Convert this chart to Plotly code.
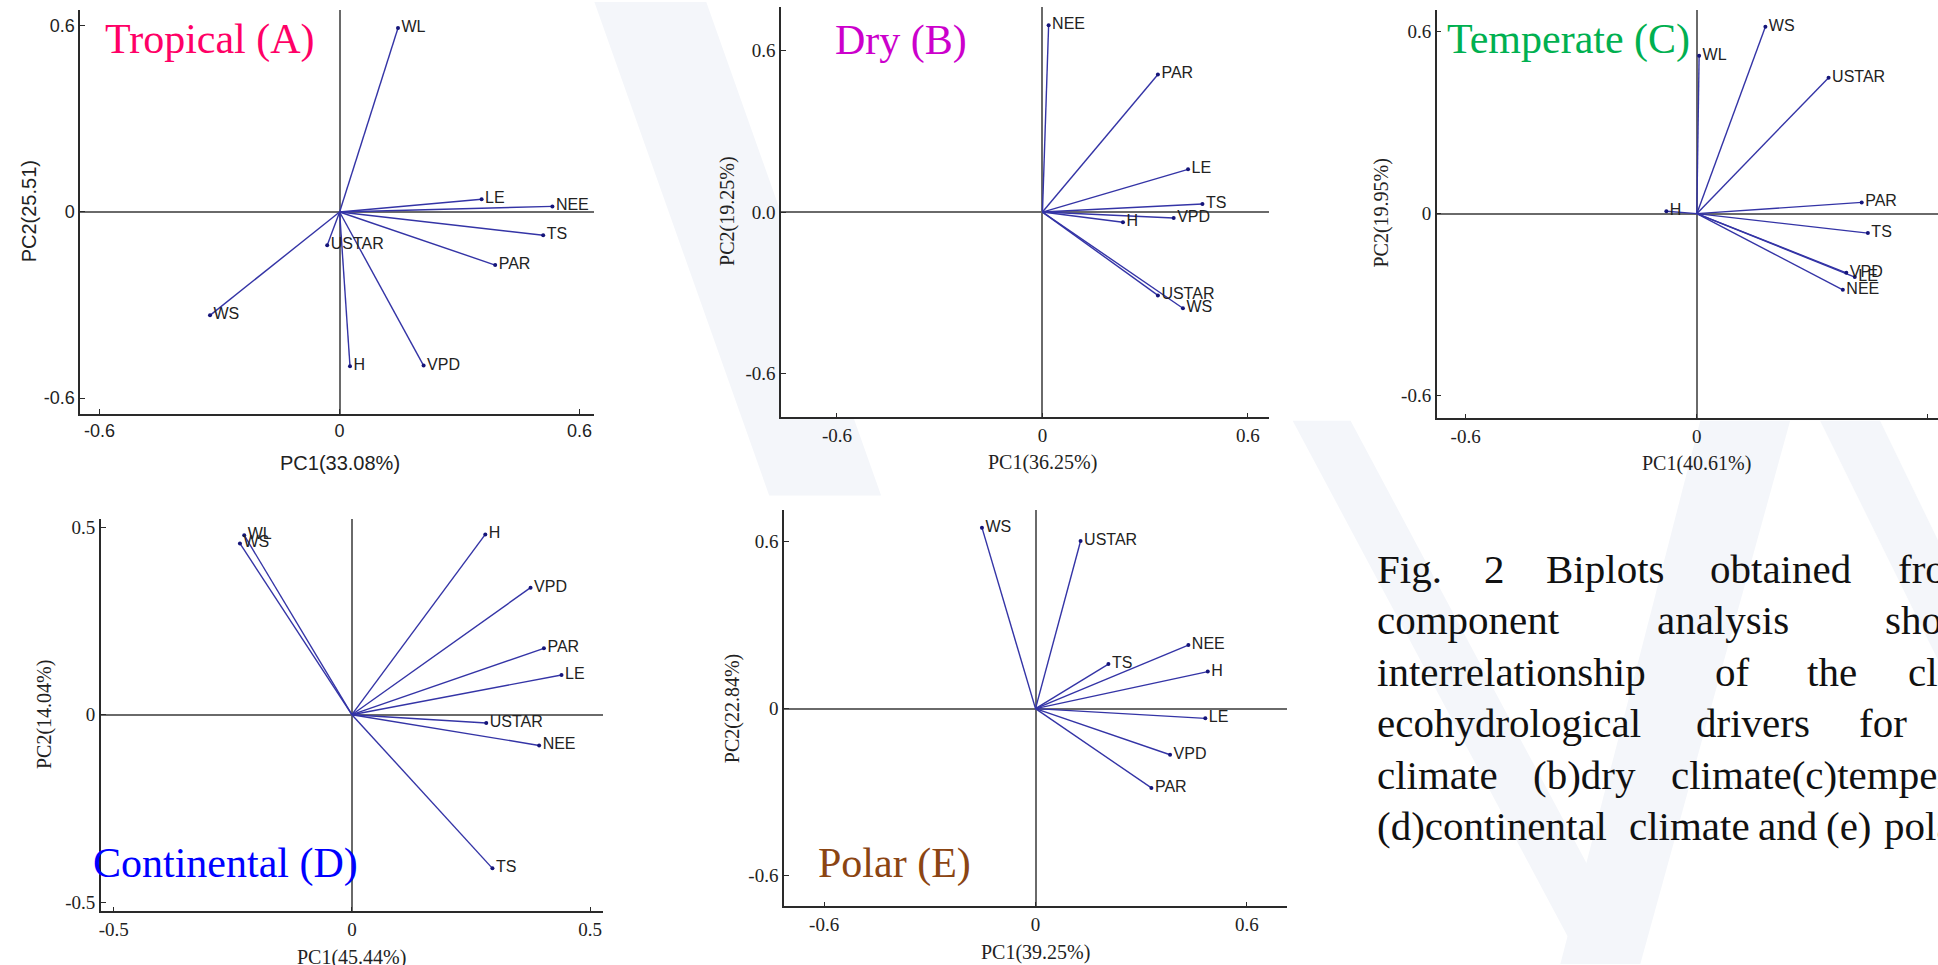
import plotly.graph_objects as go

W, H = 1938, 965

# ---------------- data ----------------
vars_A = ["WL", "LE", "NEE", "TS", "PAR", "USTAR", "WS", "H", "VPD"]
pc1_A = [0.146, 0.355, 0.532, 0.509, 0.389, -0.031, -0.324, 0.026, 0.210]
pc2_A = [0.593, 0.041, 0.018, -0.075, -0.171, -0.107, -0.333, -0.497, -0.495]

vars_B = ["NEE", "PAR", "LE", "TS", "VPD", "H", "USTAR", "WS"]
pc1_B = [0.018, 0.337, 0.425, 0.467, 0.383, 0.235, 0.337, 0.410]
pc2_B = [0.695, 0.512, 0.159, 0.030, -0.022, -0.038, -0.310, -0.358]

vars_C = ["WS", "WL", "USTAR", "PAR", "TS", "VPD", "LE", "NEE", "H"]
pc1_C = [0.178, 0.006, 0.342, 0.428, 0.444, 0.388, 0.410, 0.379, -0.079]
pc2_C = [0.616, 0.520, 0.448, 0.037, -0.064, -0.195, -0.209, -0.251, 0.008]

vars_D = ["WL", "WS", "H", "VPD", "PAR", "LE", "USTAR", "NEE", "TS"]
pc1_D = [-0.226, -0.235, 0.280, 0.375, 0.403, 0.440, 0.282, 0.393, 0.295]
pc2_D = [0.479, 0.457, 0.481, 0.339, 0.177, 0.106, -0.022, -0.082, -0.410]

vars_E = ["WS", "USTAR", "NEE", "TS", "H", "LE", "VPD", "PAR"]
pc1_E = [-0.152, 0.128, 0.434, 0.207, 0.489, 0.482, 0.382, 0.329]
pc2_E = [0.650, 0.602, 0.228, 0.160, 0.133, -0.035, -0.166, -0.285]

titles = ["Tropical (A)", "Dry (B)", "Temperate (C)", "Continental (D)", "Polar (E)"]
title_colors = ["#FF0066", "#CC00CC", "#00B050", "#0000FF", "#8B4513"]
xlabels = ["PC1(33.08%)", "PC1(36.25%)", "PC1(40.61%)", "PC1(45.44%)", "PC1(39.25%)"]
ylabels = ["PC2(25.51)", "PC2(19.25%)", "PC2(19.95%)", "PC2(14.04%)", "PC2(22.84%)"]
xtick_vals = [[-0.6, 0, 0.6], [-0.6, 0, 0.6], [-0.6, 0, 0.6], [-0.5, 0, 0.5], [-0.6, 0, 0.6]]
xtick_text = [["-0.6", "0", "0.6"], ["-0.6", "0", "0.6"], ["-0.6", "0", "0.6"],
              ["-0.5", "0", "0.5"], ["-0.6", "0", "0.6"]]
ytick_vals = [[-0.6, 0, 0.6], [-0.6, 0, 0.6], [-0.6, 0, 0.6], [-0.5, 0, 0.5], [-0.6, 0, 0.6]]
ytick_text = [["-0.6", "0", "0.6"], ["-0.6", "0.0", "0.6"], ["-0.6", "0", "0.6"],
              ["-0.5", "0", "0.5"], ["-0.6", "0", "0.6"]]

caption_words = [
    ["Fig.", "2", "Biplots", "obtained", "from"],
    ["component", "analysis", "showing"],
    ["interrelationship", "of", "the", "climatic"],
    ["ecohydrological", "drivers", "for"],
    ["climate", "(b)dry", "climate(c)temperate"],
    ["(d)continental", "climate", "and", "(e)", "polar"],
]

panels = [
    (vars_A, pc1_A, pc2_A),
    (vars_B, pc1_B, pc2_B),
    (vars_C, pc1_C, pc2_C),
    (vars_D, pc1_D, pc2_D),
    (vars_E, pc1_E, pc2_E),
]

# ---------------- layout geometry (pixels on the 1938x965 page) ----------------
boxes = [
    (78.3, 593.0, 8.3, 413.3),
    (779.9, 1268.2, 5.0, 416.7),
    (1436.2, 1938.0, 8.3, 417.7),
    (98.9, 601.6, 518.3, 912.3),
    (782.8, 1286.7, 510.0, 907.3),
]
xranges = [(-0.6485, 0.637), (-0.763, 0.661), (-0.675, 0.626), (-0.527, 0.527), (-0.714, 0.715)]
yranges = [(-0.651, 0.650), (-0.764, 0.763), (-0.6745, 0.670), (-0.525, 0.523), (-0.711, 0.712)]
title_pos = [(101, 37.5), (832, 38.8), (1444, 37.5), (89, 864), (815, 864)]
xlab_pos = [(337.9, 462), (1041.5, 462), (1696.6, 463), (350.2, 958), (1034.5, 953)]
ylab_pos = [(27.0, 210), (726.3, 210), (1380.6, 212), (43.3, 715), (731.5, 708.7)]
sans = "Liberation Sans, Arial, sans-serif"
serif = "Liberation Serif, Times New Roman, serif"
axis_fonts = [sans, serif, serif, serif, serif]

caption_x = [
    [1374.4, 1481.5, 1543.3, 1708.2, 1895.6],
    [1374.4, 1654.6, 1883.3],
    [1374.4, 1712.3, 1805.0, 1905.9],
    [1374.4, 1693.7, 1856.5],
    [1374.4, 1531.0, 1669.0],
    [1374.4, 1626.6, 1755.5, 1823.5, 1882.0],
]
caption_y = [568.5, 620.0, 671.7, 723.3, 775.0, 826.6]


def px(x):
    return x / W


def py(y):
    return 1 - y / H


fig = go.Figure()
LINE_COL = "#3434a6"
DOT_COL = "#15157a"

shapes = []
# faint slide watermark bands
band_col = "#f4f6fa"
bands = [
    [(593, 0), (705, 0), (880, 495), (768, 495)],
    [(1292, 420), (1350, 420), (1640, 965), (1582, 965)],
    [(1700, 420), (1790, 420), (1640, 965), (1560, 965)],
    [(1820, 420), (1880, 420), (1938, 540), (1938, 660)],
]
for b in bands:
    path = "M " + " L ".join(f"{px(x):.5f},{py(y):.5f}" for x, y in b) + " Z"
    shapes.append(dict(type="path", xref="paper", yref="paper", path=path,
                       fillcolor=band_col, line=dict(width=0), layer="below"))

annotations = []

for i, (names, xs, ys) in enumerate(panels):
    n = i + 1
    xa = f"x{n}" if n > 1 else "x"
    ya = f"y{n}" if n > 1 else "y"
    x0, x1, y0, y1 = boxes[i]

    shapes.append(dict(type="rect", xref=f"{xa} domain", yref=f"{ya} domain",
                       x0=0, x1=1, y0=0, y1=1, fillcolor="white",
                       line=dict(width=0), layer="below"))

    lx, ly = [], []
    for a, b in zip(xs, ys):
        lx += [0, a, None]
        ly += [0, b, None]
    fig.add_trace(go.Scatter(x=lx, y=ly, mode="lines", xaxis=xa, yaxis=ya,
                             line=dict(color=LINE_COL, width=1.4),
                             hoverinfo="skip", showlegend=False))
    fig.add_trace(go.Scatter(x=xs, y=ys, mode="markers+text", text=names,
                             textposition="middle right", xaxis=xa, yaxis=ya,
                             marker=dict(color=DOT_COL, size=4),
                             textfont=dict(family=sans, size=16, color="#222222"),
                             showlegend=False))

    common = dict(showgrid=False, showline=True, linecolor="#2a2a2a", linewidth=1.5,
                  ticks="inside", ticklen=5, tickcolor="#2a2a2a", tickwidth=1.2,
                  zeroline=True, zerolinecolor="#6a6a6a", zerolinewidth=1.7,
                  tickfont=dict(family=axis_fonts[i], size=19 if i else 18, color="#222222"),
                  tickmode="array", fixedrange=True)
    fig.update_layout(**{
        ("xaxis" if n == 1 else f"xaxis{n}"): dict(
            common, domain=[px(x0), px(x1)], range=list(xranges[i]),
            tickvals=xtick_vals[i], ticktext=xtick_text[i], anchor=ya),
        ("yaxis" if n == 1 else f"yaxis{n}"): dict(
            common, domain=[py(y1), py(y0)], range=list(yranges[i]),
            tickvals=ytick_vals[i], ticktext=ytick_text[i], anchor=xa),
    })

    tx, ty = title_pos[i]
    annotations.append(dict(text=titles[i], x=px(tx), y=py(ty), xref="paper", yref="paper",
                            xanchor="left", yanchor="middle", showarrow=False,
                            font=dict(family=serif, size=42, color=title_colors[i])))
    ax_, ay_ = xlab_pos[i]
    annotations.append(dict(text=xlabels[i], x=px(ax_), y=py(ay_), xref="paper", yref="paper",
                            xanchor="center", yanchor="middle", showarrow=False,
                            font=dict(family=axis_fonts[i], size=20, color="#222222")))
    bx_, by_ = ylab_pos[i]
    annotations.append(dict(text=ylabels[i], x=px(bx_), y=py(by_), xref="paper", yref="paper",
                            xanchor="center", yanchor="middle", showarrow=False, textangle=-90,
                            font=dict(family=axis_fonts[i], size=20, color="#222222")))

for words, xs_, yc in zip(caption_words, caption_x, caption_y):
    for wtxt, wx in zip(words, xs_):
        annotations.append(dict(text=wtxt, x=px(wx), y=py(yc), xref="paper", yref="paper",
                                xanchor="left", yanchor="middle", showarrow=False,
                                font=dict(family=serif, size=41, color="#111111")))

fig.update_layout(width=W, height=H, margin=dict(l=0, r=0, t=0, b=0),
                  paper_bgcolor="white", plot_bgcolor="white",
                  shapes=shapes, annotations=annotations, showlegend=False)

fig.write_html("out.html", post_script="document.body.style.margin='0';",
               config={"displayModeBar": False})
